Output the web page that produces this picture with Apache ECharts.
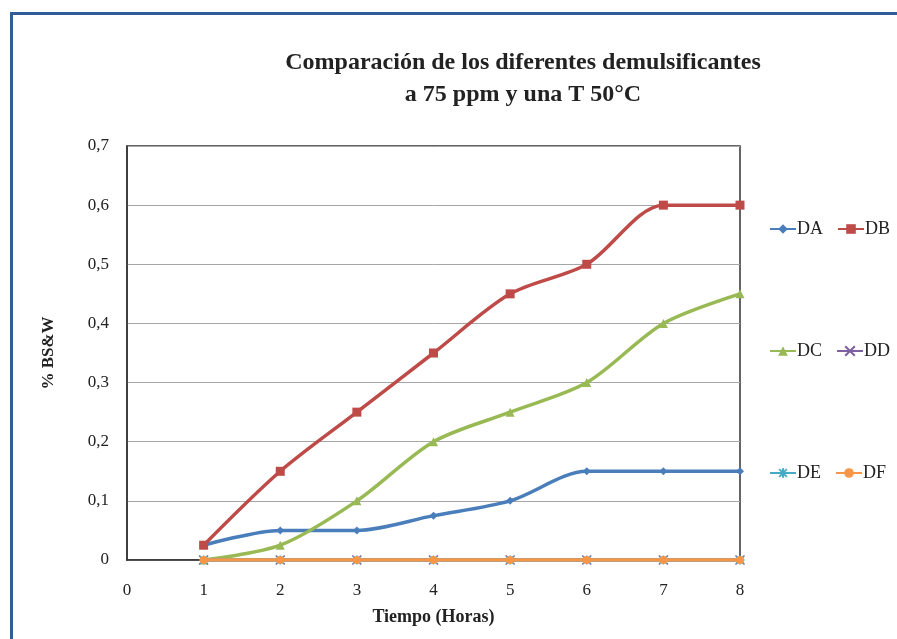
<!DOCTYPE html>
<html><head><meta charset="utf-8">
<script src="https://cdn.jsdelivr.net/npm/echarts@6/dist/echarts.min.js"></script>
<style>html,body{margin:0;padding:0;background:#fff}#c{width:897px;height:639px}</style>
</head><body><div id="c"></div>
<script>
const hours = [1, 2, 3, 4, 5, 6, 7, 8];
const seriesNames = ['DA', 'DB', 'DC', 'DD', 'DE', 'DF'];
const DA = [0.025, 0.05, 0.05, 0.075, 0.1, 0.15, 0.15, 0.15];
const DB = [0.025, 0.15, 0.25, 0.35, 0.45, 0.5, 0.6, 0.6];
const DC = [0, 0.025, 0.1, 0.2, 0.25, 0.3, 0.4, 0.45];
const DD = [0, 0, 0, 0, 0, 0, 0, 0];
const DE = [0, 0, 0, 0, 0, 0, 0, 0];
const DF = [0, 0, 0, 0, 0, 0, 0, 0];
const values = [DA, DB, DC, DD, DE, DF];
const colors = ['#4a7ebb', '#be4b48', '#98b954', '#7d60a0', '#46aac5', '#f79646'];
const symbols = ['diamond', 'rect', 'triangle',
  'path://M0,0L10,10M10,0L0,10',
  'path://M5,0L5,10M0,5L10,5M1,1L9,9M9,1L1,9',
  'circle'];
const symbolSizes = [8, 9, 9, 9, 9, 8];
const titleFont = '"Liberation Serif", "DejaVu Serif", serif';

const chart = echarts.init(document.getElementById('c'));
const series = seriesNames.map((n, i) => ({
  name: n, type: 'line', smooth: 0.3,
  data: hours.map((h, j) => [h, values[i][j]]),
  symbol: symbols[i], symbolSize: symbolSizes[i],
  lineStyle: { width: 3.5, color: colors[i] },
  itemStyle: { color: colors[i], borderColor: colors[i], borderWidth: (i === 3 || i === 4) ? 1.5 : 0 },
  z: 2 + i
}));
const legendCommon = {
  orient: 'horizontal', itemWidth: 26, itemHeight: 12, itemGap: 14,
  textStyle: { fontFamily: titleFont, fontSize: 18, color: '#222', padding: [0, 0, 0, -4] }
};
chart.setOption({
  backgroundColor: '#fff',
  animation: false,
  color: colors,
  graphic: [{
    type: 'rect', shape: { x: 11.5, y: 13.5, width: 920, height: 660 },
    style: { fill: 'none', stroke: '#2f5d97', lineWidth: 3 }, z: 100
  }],
  title: {
    text: 'Comparación de los diferentes demulsificantes\na 75 ppm y una T 50°C',
    left: 518, top: 42, textAlign: 'center',
    textStyle: { fontFamily: titleFont, fontWeight: 'bold', fontSize: 24, lineHeight: 32, color: '#222' }
  },
  legend: [
    Object.assign({ data: ['DA', 'DB'], left: 764, top: 215 }, legendCommon),
    Object.assign({ data: ['DC', 'DD'], left: 764, top: 337 }, legendCommon),
    Object.assign({ data: ['DE', 'DF'], left: 764, top: 459 }, legendCommon)
  ],
  grid: { left: 127, right: 157, top: 146, bottom: 79, containLabel: false, show: true, borderColor: '#333', borderWidth: 1.5 },
  xAxis: {
    type: 'value', min: 0, max: 8, interval: 1,
    name: 'Tiempo (Horas)', nameLocation: 'middle', nameGap: 48,
    nameTextStyle: { fontFamily: titleFont, fontWeight: 'bold', fontSize: 18, color: '#222' },
    axisLine: { show: true, lineStyle: { color: '#333', width: 1.5 } },
    axisTick: { show: false },
    splitLine: { show: false },
    axisLabel: { fontFamily: titleFont, fontSize: 17, color: '#222', margin: 22 }
  },
  yAxis: {
    type: 'value', min: 0, max: 0.7, interval: 0.1,
    name: '% BS&W', nameLocation: 'middle', nameGap: 70, nameRotate: 90,
    nameTextStyle: { fontFamily: titleFont, fontWeight: 'bold', fontSize: 17, color: '#222' },
    axisLine: { show: true, lineStyle: { color: '#333', width: 1.5 } },
    axisTick: { show: false },
    splitLine: { show: true, lineStyle: { color: '#a6a6a6', width: 1 } },
    axisLabel: { fontFamily: titleFont, fontSize: 17, color: '#222', margin: 18,
      formatter: v => (Math.round(v * 10) / 10).toString().replace('.', ',') }
  },
  series: series
});
</script></body></html>
